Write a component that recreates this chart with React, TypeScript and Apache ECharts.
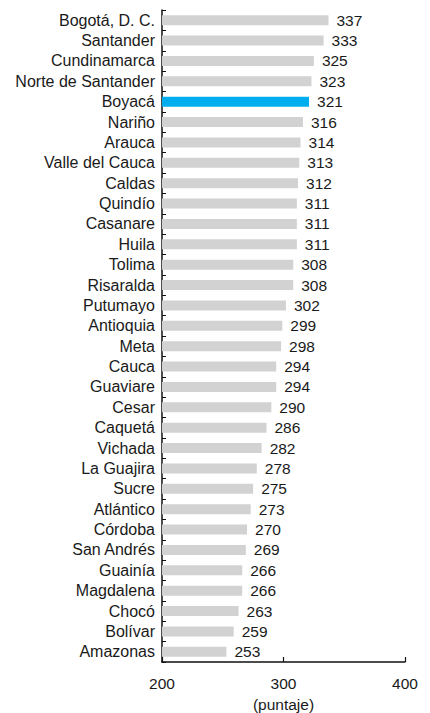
import React, { useEffect, useRef } from "react";
import * as echarts from "echarts";

const categories = [
  "Bogotá, D. C.", "Santander", "Cundinamarca", "Norte de Santander", "Boyacá", "Nariño",
  "Arauca", "Valle del Cauca", "Caldas", "Quindío", "Casanare", "Huila", "Tolima",
  "Risaralda", "Putumayo", "Antioquia", "Meta", "Cauca", "Guaviare", "Cesar", "Caquetá",
  "Vichada", "La Guajira", "Sucre", "Atlántico", "Córdoba", "San Andrés", "Guainía",
  "Magdalena", "Chocó", "Bolívar", "Amazonas",
];
const values = [
  337, 333, 325, 323, 321, 316, 314, 313, 312, 311, 311, 311, 308, 308, 302, 299, 298,
  294, 294, 290, 286, 282, 278, 275, 273, 270, 269, 266, 266, 263, 259, 253,
];
const highlighted = "Boyacá";
const xTicks = [200, 300, 400];

export default function App() {
  const ref = useRef<HTMLDivElement>(null);
  useEffect(() => {
    if (!ref.current) return;
    const chart = echarts.init(ref.current, undefined, { renderer: "svg" });
    const font = "'Liberation Sans', Arial, Helvetica, sans-serif";
    chart.setOption({
      animation: false,
      textStyle: { fontFamily: font },
      grid: { left: 162, right: 25, top: 10, bottom: 51, containLabel: false, outerBoundsMode: "none" },
      xAxis: {
        type: "value",
        min: xTicks[0],
        max: xTicks[xTicks.length - 1],
        interval: 100,
        name: "(puntaje)",
        nameLocation: "middle",
        nameGap: 34,
        nameTextStyle: { fontSize: 15.5, color: "#1a1a1a", fontFamily: font, verticalAlign: "top" },
        axisLine: { show: true, lineStyle: { color: "#111", width: 1.5 } },
        axisTick: { show: true, inside: true, length: 5, lineStyle: { color: "#111", width: 1.2 } },
        axisLabel: { fontSize: 15.5, color: "#1a1a1a", margin: 13, fontFamily: font },
        splitLine: { show: false },
      },
      yAxis: {
        type: "category",
        data: categories,
        inverse: true,
        axisLine: { show: true, lineStyle: { color: "#111", width: 1.5 } },
        axisTick: { show: true, inside: true, length: 4, interval: 0, lineStyle: { color: "#111", width: 1 } },
        axisLabel: { fontSize: 16, color: "#1a1a1a", margin: 7, interval: 0, fontFamily: font },
      },
      series: [
        {
          type: "bar",
          data: values.map((v, i) => ({
            value: v,
            itemStyle: { color: categories[i] === highlighted ? "#00aeef" : "#d2d2d2" },
          })),
          barWidth: 10,
          label: {
            show: true,
            position: "right",
            distance: 8,
            fontSize: 15.5,
            color: "#1a1a1a",
            fontFamily: font,
          },
        },
      ],
    });
    return () => chart.dispose();
  }, []);
  return <div ref={ref} style={{ width: 430, height: 713, position: "absolute", left: 0, top: 0 }} />;
}
